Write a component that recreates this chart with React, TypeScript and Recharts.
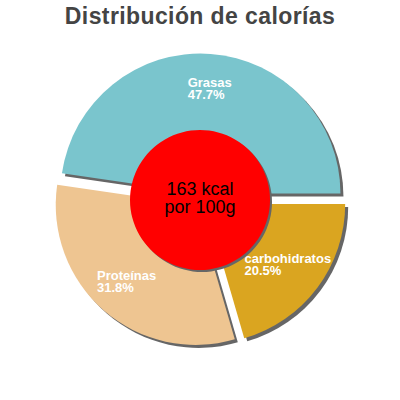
import React from 'react';
import { PieChart, Pie, Cell, Sector } from 'recharts';

const categories = ['Grasas', 'Proteínas', 'carbohidratos'];
const percents = [47.7, 31.8, 20.5];
const colors = ['#7AC5CD', '#EEC591', '#DAA520'];
const centerLines = ['163 kcal', 'por 100g'];
const centerValue = [1];
const title = 'Distribución de calorías';

const sliceData = categories.map((name, i) => ({ name, value: percents[i] }));
const centerData = centerValue.map((v) => ({ name: 'center', value: v }));

const EXPLODE = 6.5;
const SHADOW = 3;
const RAD = Math.PI / 180;
const FONT = '"Liberation Sans", Arial, Helvetica, sans-serif';

const ExplodedSector = (props: any) => {
  const { cx, cy, midAngle, innerRadius, outerRadius, startAngle, endAngle, fill } = props;
  const dx = EXPLODE * Math.cos(-midAngle * RAD);
  const dy = EXPLODE * Math.sin(-midAngle * RAD);
  return (
    <g>
      <Sector
        cx={cx + dx + SHADOW}
        cy={cy + dy + SHADOW}
        innerRadius={innerRadius}
        outerRadius={outerRadius}
        startAngle={startAngle}
        endAngle={endAngle}
        fill="#666"
        stroke="none"
      />
      <Sector
        cx={cx + dx}
        cy={cy + dy}
        innerRadius={innerRadius}
        outerRadius={outerRadius}
        startAngle={startAngle}
        endAngle={endAngle}
        fill={fill}
        stroke="none"
      />
    </g>
  );
};

const CenterSector = (props: any) => {
  const { cx, cy, innerRadius, outerRadius, startAngle, endAngle, fill } = props;
  return (
    <g>
      <Sector
        cx={cx + 2}
        cy={cy + 2}
        innerRadius={innerRadius}
        outerRadius={outerRadius}
        startAngle={startAngle}
        endAngle={endAngle}
        fill="#666"
        stroke="none"
      />
      <Sector
        cx={cx}
        cy={cy}
        innerRadius={innerRadius}
        outerRadius={outerRadius}
        startAngle={startAngle}
        endAngle={endAngle}
        fill={fill}
        stroke="none"
      />
    </g>
  );
};

const renderSliceLabel = (props: any) => {
  const { cx, cy, midAngle, index } = props;
  const ox = cx + EXPLODE * Math.cos(-midAngle * RAD);
  const oy = cy + EXPLODE * Math.sin(-midAngle * RAD);
  const r = 104;
  const lx = ox + r * Math.cos(-midAngle * RAD);
  const ly = oy + r * Math.sin(-midAngle * RAD);
  const name = categories[index];
  const pct = percents[index].toFixed(1) + '%';
  const w = Math.max(name.length, pct.length) * 6.76;
  const left = lx - w / 2;
  return (
    <text
      x={left}
      y={ly - 3}
      fill="#fff"
      fontFamily={FONT}
      fontSize={13}
      fontWeight="bold"
      textAnchor="start"
    >
      <tspan x={left} y={ly - 3}>{name}</tspan>
      <tspan x={left} y={ly + 9}>{pct}</tspan>
    </text>
  );
};

const renderCenterLabel = (props: any) => {
  const { cx, cy } = props;
  return (
    <text x={cx} y={cy} fill="#000" fontFamily={FONT} fontSize={18} textAnchor="middle">
      <tspan x={cx} y={cy - 5}>{centerLines[0]}</tspan>
      <tspan x={cx} y={cy + 13}>{centerLines[1]}</tspan>
    </text>
  );
};

export default function App() {
  return (
    <div style={{ position: 'absolute', left: 0, top: 0, width: 400, height: 400, background: '#fff' }}>
      <div
        style={{
          position: 'absolute',
          top: 1,
          left: 0,
          width: 400,
          textAlign: 'center',
          fontFamily: FONT,
          fontWeight: 'bold',
          fontSize: 23,
          letterSpacing: 0.4,
          lineHeight: '30px',
          color: '#444',
        }}
      >
        {title}
      </div>
      <PieChart
        width={400}
        height={400}
        margin={{ top: 0, right: 0, bottom: 0, left: 0 }}
        style={{ position: 'absolute', left: 0, top: 0 }}
      >
        <Pie
          data={sliceData}
          dataKey="value"
          nameKey="name"
          cx={200}
          cy={200}
          outerRadius={140}
          startAngle={0}
          endAngle={360}
          stroke="none"
          isAnimationActive={false}
          shape={ExplodedSector}
          activeShape={ExplodedSector}
          inactiveShape={ExplodedSector}
          label={renderSliceLabel}
          labelLine={false}
        >
          {sliceData.map((d, i) => (
            <Cell key={d.name} fill={colors[i]} />
          ))}
        </Pie>
        <Pie
          data={centerData}
          dataKey="value"
          cx={200}
          cy={200}
          outerRadius={70}
          startAngle={0}
          endAngle={360}
          stroke="none"
          fill="#FF0000"
          isAnimationActive={false}
          shape={CenterSector}
          activeShape={CenterSector}
          inactiveShape={CenterSector}
          label={renderCenterLabel}
          labelLine={false}
        />
      </PieChart>
    </div>
  );
}
